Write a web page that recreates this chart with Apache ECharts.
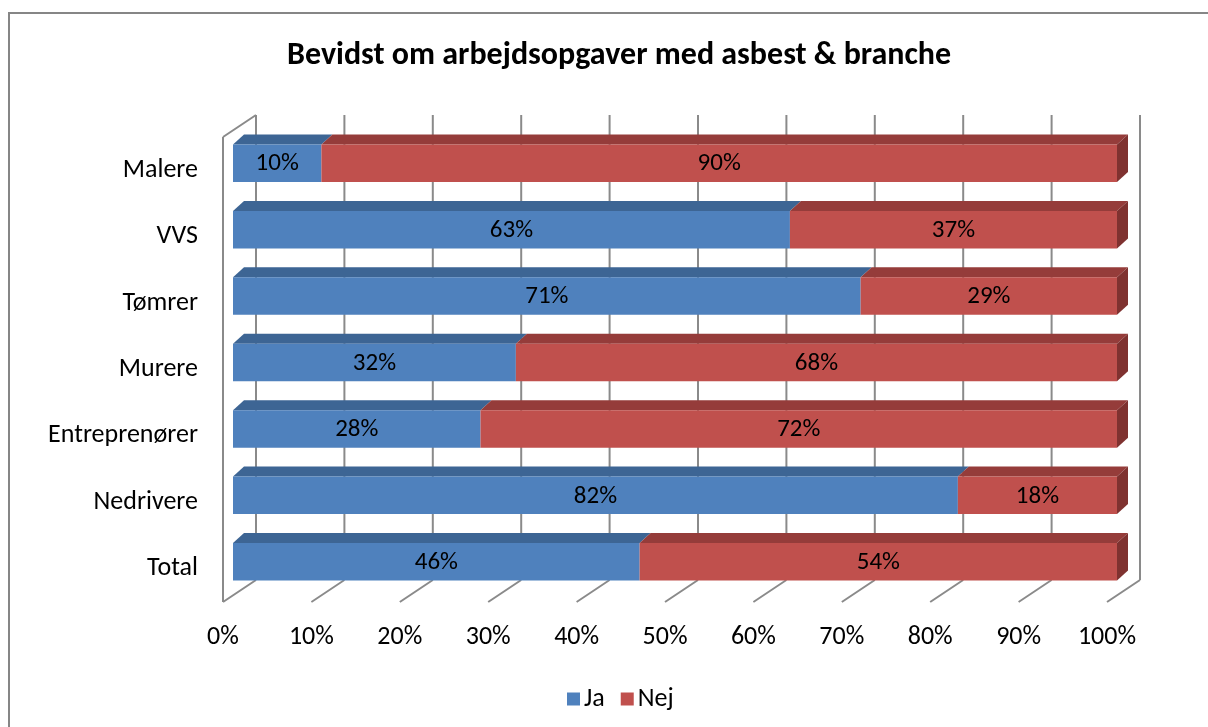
<!DOCTYPE html>
<html>
<head>
<meta charset="utf-8">
<script src="https://cdn.jsdelivr.net/npm/echarts@6/dist/echarts.min.js"></script>
<style>
  html, body { margin: 0; padding: 0; background: #fff; }
  #chart { width: 1208px; height: 727px; }
</style>
</head>
<body>
<div id="chart"></div>
<script>
const categories = ['Malere', 'VVS', 'Tømrer', 'Murere', 'Entreprenører', 'Nedrivere', 'Total']
const ja = [10, 63, 71, 32, 28, 82, 46]
const nej = [90, 37, 29, 68, 72, 18, 54]
const ticks = [0, 10, 20, 30, 40, 50, 60, 70, 80, 90, 100]

const FONT = 'Carlito, Lato, sans-serif'
const COL = {
  ja: { front: '#4f81bd', top: '#3d6594', side: '#335580' },
  nej: { front: '#c0504d', top: '#953c3a', side: '#7f3230' },
}
// offsets of the 3d projection (front plane -> bar face / back wall)
const BAR_OFF = [10, -7], BAR_DEPTH = [11, -10], WALL = [33, -22]
const GRID_COLOR = '#8a8a8a'

function barItem(key) {
  return function (params, api) {
    const i = api.value(1)
    const start = key === 'ja' ? 0 : ja[i]
    const end = start + api.value(0)
    const a = api.coord([start, i]), b = api.coord([end, i])
    const h = api.size([0, 1])[1] * 0.565
    const x0 = a[0] + BAR_OFF[0], x1 = b[0] + BAR_OFF[0]
    const yc = a[1] + BAR_OFF[1], yT = yc - h / 2, yB = yc + h / 2
    const [dx, dy] = BAR_DEPTH
    const c = COL[key]
    const children = [
      { type: 'polygon', shape: { points: [[x0, yT], [x1, yT], [x1 + dx, yT + dy], [x0 + dx, yT + dy]] }, style: { fill: c.top } },
      { type: 'rect', shape: { x: x0, y: yT, width: x1 - x0, height: h }, style: { fill: c.front } },
    ]
    if (end >= 100) {
      children.push({ type: 'polygon', shape: { points: [[x1, yT], [x1 + dx, yT + dy], [x1 + dx, yB + dy], [x1, yB]] }, style: { fill: c.side } })
    }
    children.push({
      type: 'text',
      style: { text: api.value(0) + '%', x: (x0 + x1) / 2, y: yc + 1, align: 'center', verticalAlign: 'middle', font: '25px ' + FONT, fill: '#000' },
    })
    return { type: 'group', children }
  }
}

function gridItem(params, api) {
  const cs = params.coordSys
  const v = api.value(0)
  const x = api.coord([v, 0])[0]
  const bottom = cs.y + cs.height
  const st = { stroke: GRID_COLOR, lineWidth: 2 }
  const children = [
    { type: 'line', shape: { x1: x + WALL[0], y1: cs.y + WALL[1], x2: x + WALL[0], y2: bottom + WALL[1] }, style: st },
    { type: 'line', shape: { x1: x + WALL[0], y1: bottom + WALL[1], x2: x, y2: bottom }, style: st },
  ]
  if (v === 0) {
    children.push({ type: 'line', shape: { x1: x, y1: cs.y, x2: x + WALL[0], y2: cs.y + WALL[1] }, style: st })
    children.push({ type: 'line', shape: { x1: x, y1: cs.y, x2: x, y2: bottom }, style: st })
  }
  return { type: 'group', children }
}

const chart = echarts.init(document.getElementById('chart'))
chart.setOption({
  animation: false,
  color: [COL.ja.front, COL.nej.front],
  title: {
    text: 'Bevidst om arbejdsopgaver med asbest & branche',
    left: 282, top: 35,
    textStyle: { fontFamily: FONT, fontSize: 32, fontWeight: 'bold', color: '#000' },
  },
  graphic: [{
    type: 'rect', shape: { x: 9, y: 13, width: 1260, height: 800 },
    style: { fill: 'none', stroke: '#868686', lineWidth: 2 }, silent: true,
  }],
  legend: {
    data: ['Ja', 'Nej'], top: 681, left: 562,
    icon: 'rect', itemWidth: 13, itemHeight: 13, itemGap: 16,
    textStyle: { fontFamily: FONT, fontSize: 26, color: '#000', padding: [0, 0, 0, -1] },
  },
  grid: { left: 223, right: 101, top: 137, bottom: 125, containLabel: false },
  xAxis: {
    type: 'value', min: 0, max: 100, interval: 10,
    axisLine: { show: false }, axisTick: { show: false }, splitLine: { show: false },
    axisLabel: { formatter: '{value}%', margin: 22, fontFamily: FONT, fontSize: 26, color: '#000' },
  },
  yAxis: {
    type: 'category', data: categories, inverse: true,
    axisLine: { show: false }, axisTick: { show: false },
    axisLabel: { margin: 25, fontFamily: FONT, fontSize: 26, color: '#000' },
  },
  series: [
    { type: 'custom', name: 'grid', renderItem: gridItem, data: ticks.map(t => [t, 0]), z: 1, silent: true, itemStyle: { color: GRID_COLOR } },
    { type: 'custom', name: 'Ja', renderItem: barItem('ja'), data: ja.map((v, i) => [v, i]), z: 2, itemStyle: { color: COL.ja.front } },
    { type: 'custom', name: 'Nej', renderItem: barItem('nej'), data: nej.map((v, i) => [v, i]), z: 3, itemStyle: { color: COL.nej.front } },
  ],
})
</script>
</body>
</html>
